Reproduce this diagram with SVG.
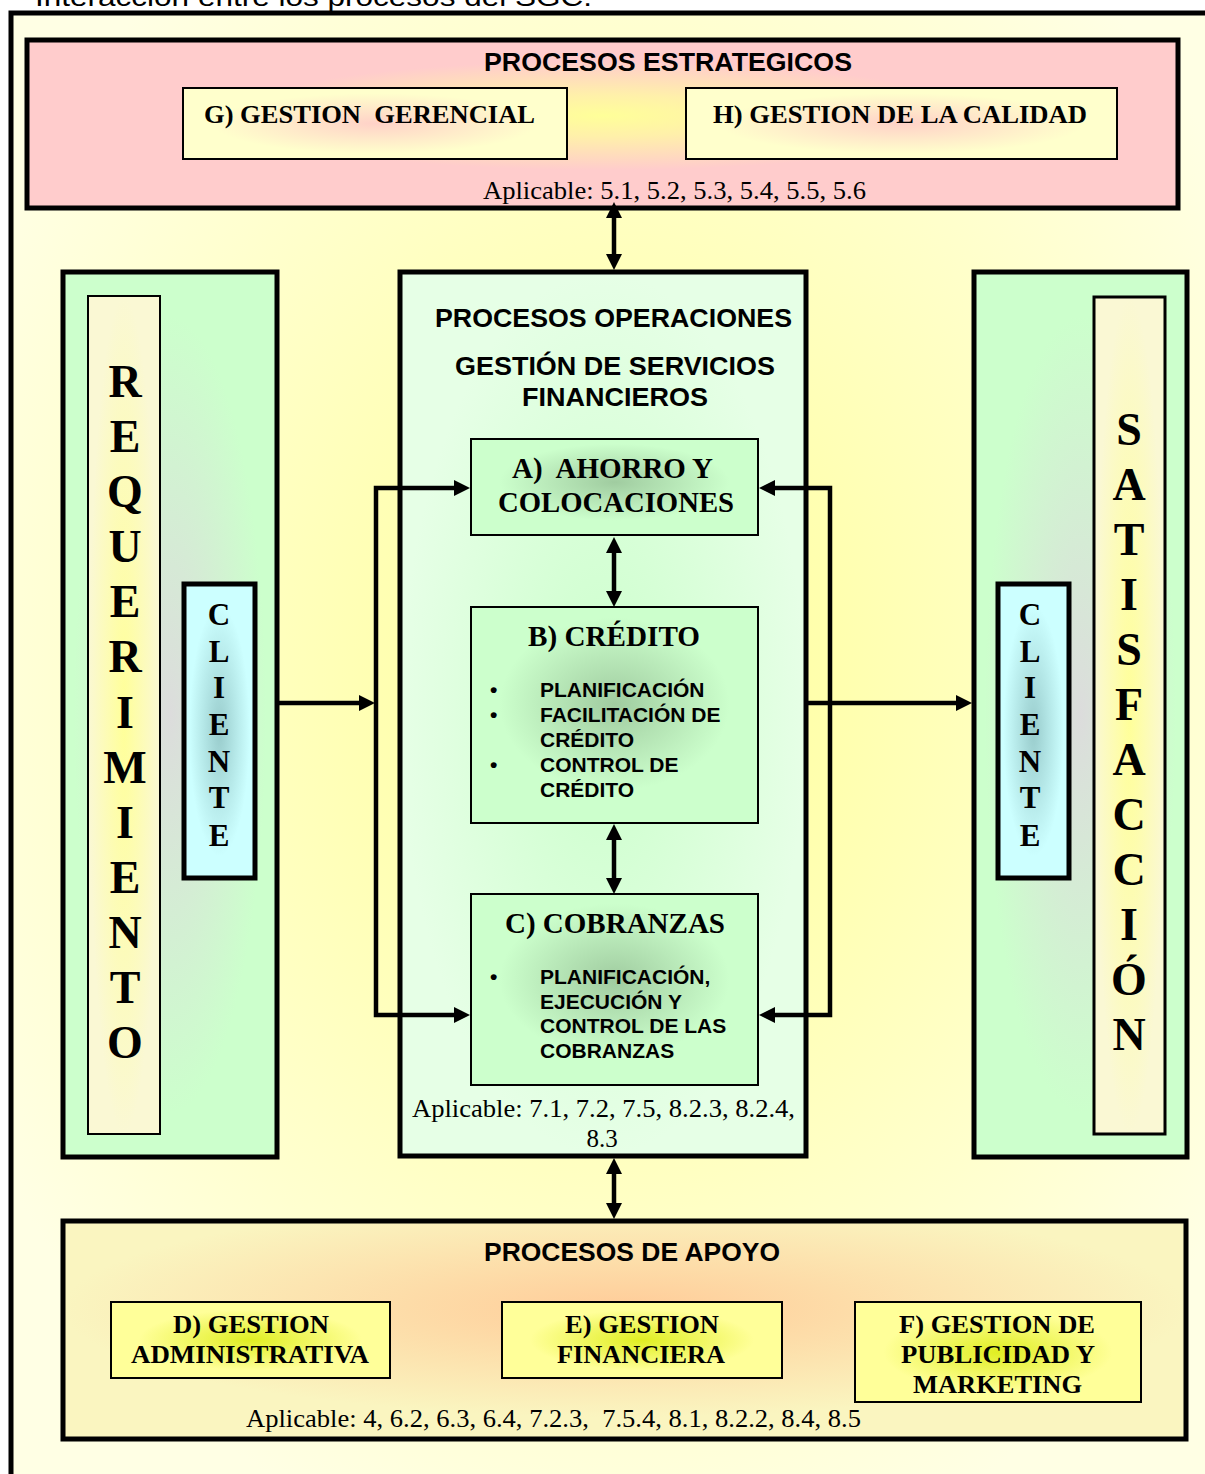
<svg xmlns="http://www.w3.org/2000/svg" width="1205" height="1474" viewBox="0 0 1205 1474">
<defs>
<style>
.sans{font-family:"Liberation Sans",Arial,sans-serif;font-weight:bold;fill:#000}
.serif{font-family:"Liberation Serif","Times New Roman",serif;fill:#000}
.b{font-weight:bold}
.hd{font-size:26px}
.ttl{font-size:26px}
.big{font-size:30px}
.bul{font-size:21px}
.apl{font-size:25px}
.vl{font-size:46px;font-weight:bold}
.vc{font-size:31px;font-weight:bold}
.thick{stroke:#000;stroke-width:5}
.mid{stroke:#000;stroke-width:3}
.thin{stroke:#000;stroke-width:2}
.con{fill:none;stroke:#000;stroke-width:4.5}
</style>
<radialGradient id="gBg" cx="0.5" cy="0.45" r="0.6"><stop offset="0" stop-color="#FFFF99"/><stop offset="1" stop-color="#FFFFE4"/></radialGradient>
<radialGradient id="gStrat" cx="0.5" cy="0.45" r="0.5"><stop offset="0" stop-color="#FFFF99"/><stop offset="0.25" stop-color="#FFF0AA"/><stop offset="0.65" stop-color="#FFCCCC"/></radialGradient>
<radialGradient id="gLight" cx="0.5" cy="0.5" r="0.5"><stop offset="0" stop-color="#FFD2C8"/><stop offset="0.85" stop-color="#FFFFCC"/></radialGradient>
<radialGradient id="gSide" cx="0.5" cy="0.5" r="0.5"><stop offset="0" stop-color="#DCDCDC"/><stop offset="0.9" stop-color="#CCFFCC"/></radialGradient>
<radialGradient id="gOps" cx="0.5" cy="0.5" r="0.5"><stop offset="0" stop-color="#CCFFCC"/><stop offset="1" stop-color="#E6FFE6"/></radialGradient>
<radialGradient id="gProc" cx="0.5" cy="0.45" r="0.5"><stop offset="0" stop-color="#A0CCA0"/><stop offset="0.8" stop-color="#CCFFCC"/></radialGradient>
<radialGradient id="gStrip" cx="0.5" cy="0.5" r="0.5"><stop offset="0" stop-color="#FFFF99"/><stop offset="1" stop-color="#FAF8D4"/></radialGradient>
<radialGradient id="gCli" cx="0.5" cy="0.5" r="0.5"><stop offset="0" stop-color="#99CCCC"/><stop offset="0.85" stop-color="#CCFFFF"/></radialGradient>
<radialGradient id="gApoyo" cx="0.5" cy="0.4" r="0.5"><stop offset="0" stop-color="#FFCC99"/><stop offset="1" stop-color="#FAF5C0"/></radialGradient>
<radialGradient id="gYel" cx="0.5" cy="0.5" r="0.5"><stop offset="0" stop-color="#E0EE22"/><stop offset="0.8" stop-color="#FFFF99"/></radialGradient>
<marker id="ah" markerUnits="userSpaceOnUse" markerWidth="16" markerHeight="16" viewBox="0 0 16 16" refX="10" refY="8" orient="auto-start-reverse"><path d="M0,0 L16,8 L0,16 z" fill="#000"/></marker>
</defs>

<text class="sans" x="35" y="6" style="font-weight:normal;font-size:26px" textLength="557" lengthAdjust="spacingAndGlyphs">Interacción entre los procesos del SGC.</text>

<g id="frame"><rect x="11" y="13" width="1230" height="1500" fill="url(#gBg)" class="thick"/></g>

<g id="estrategicos">
<rect x="27" y="40" width="1151" height="168" fill="url(#gStrat)" class="thick"/>
<text class="sans hd" x="484" y="71" textLength="368" lengthAdjust="spacingAndGlyphs">PROCESOS ESTRATEGICOS</text>
<text class="serif apl" x="483" y="199" textLength="383" lengthAdjust="spacingAndGlyphs">Aplicable: 5.1, 5.2, 5.3, 5.4, 5.5, 5.6</text>
</g>
<g id="gerencial">
<rect x="183" y="88" width="384" height="71" fill="url(#gLight)" class="thin"/>
<text class="serif b ttl" x="204" y="123" xml:space="preserve" textLength="331" lengthAdjust="spacingAndGlyphs">G) GESTION  GERENCIAL</text>
</g>
<g id="calidad">
<rect x="686" y="88" width="431" height="71" fill="url(#gLight)" class="thin"/>
<text class="serif b ttl" x="713" y="123" textLength="374" lengthAdjust="spacingAndGlyphs">H) GESTION DE LA CALIDAD</text>
</g>

<g id="requerimiento">
<rect x="63" y="272" width="214" height="885" fill="url(#gSide)" class="thick"/>
<rect x="88" y="296" width="72" height="838" fill="url(#gStrip)" class="thin"/>
<g class="serif vl" text-anchor="middle">
<text x="125" y="397">R</text><text x="125" y="452">E</text><text x="125" y="507">Q</text><text x="125" y="562">U</text><text x="125" y="617">E</text><text x="125" y="672">R</text><text x="125" y="728">I</text><text x="125" y="783">M</text><text x="125" y="838">I</text><text x="125" y="893">E</text><text x="125" y="948">N</text><text x="125" y="1003">T</text><text x="125" y="1058">O</text>
</g>
</g>
<g id="cliente-izq">
<rect x="184" y="584" width="71" height="294" fill="url(#gCli)" class="thick"/>
<g class="serif vc" text-anchor="middle">
<text x="219" y="625">C</text><text x="219" y="662">L</text><text x="219" y="698">I</text><text x="219" y="735">E</text><text x="219" y="772">N</text><text x="219" y="808">T</text><text x="219" y="846">E</text>
</g>
</g>

<g id="satisfaccion">
<rect x="974" y="272" width="213" height="885" fill="url(#gSide)" class="thick"/>
<rect x="1094" y="297" width="71" height="837" fill="url(#gStrip)" class="mid"/>
<g class="serif vl" text-anchor="middle">
<text x="1129" y="445">S</text><text x="1129" y="500">A</text><text x="1129" y="555">T</text><text x="1129" y="610">I</text><text x="1129" y="665">S</text><text x="1129" y="720">F</text><text x="1129" y="775">A</text><text x="1129" y="830">C</text><text x="1129" y="885">C</text><text x="1129" y="940">I</text><text x="1129" y="995">Ó</text><text x="1129" y="1050">N</text>
</g>
</g>
<g id="cliente-der">
<rect x="998" y="584" width="71" height="294" fill="url(#gCli)" class="thick"/>
<g class="serif vc" text-anchor="middle">
<text x="1030" y="625">C</text><text x="1030" y="662">L</text><text x="1030" y="698">I</text><text x="1030" y="735">E</text><text x="1030" y="772">N</text><text x="1030" y="808">T</text><text x="1030" y="846">E</text>
</g>
</g>

<g id="operaciones">
<rect x="400" y="272" width="406" height="884" fill="url(#gOps)" class="thick"/>
<text class="sans hd" x="435" y="327" textLength="357" lengthAdjust="spacingAndGlyphs">PROCESOS OPERACIONES</text>
<text class="sans hd" x="455" y="375" textLength="320" lengthAdjust="spacingAndGlyphs">GESTIÓN DE SERVICIOS</text>
<text class="sans hd" x="522" y="406" textLength="186" lengthAdjust="spacingAndGlyphs">FINANCIEROS</text>
<text class="serif apl" x="412" y="1117" textLength="383" lengthAdjust="spacingAndGlyphs">Aplicable: 7.1, 7.2, 7.5, 8.2.3, 8.2.4,</text>
<text class="serif apl" x="602" y="1147" text-anchor="middle">8.3</text>
</g>

<g id="ahorro">
<rect x="471" y="439" width="287" height="96" fill="url(#gProc)" class="thin"/>
<text class="serif b big" x="512" y="478" xml:space="preserve" textLength="201" lengthAdjust="spacingAndGlyphs">A)  AHORRO Y</text>
<text class="serif b big" x="498" y="512" textLength="236" lengthAdjust="spacingAndGlyphs">COLOCACIONES</text>
</g>

<g id="credito">
<rect x="471" y="607" width="287" height="216" fill="url(#gProc)" class="thin"/>
<text class="serif b big" x="528" y="646" textLength="172" lengthAdjust="spacingAndGlyphs">B) CRÉDITO</text>
<g class="sans bul">
<text x="490" y="697">•</text><text x="490" y="722">•</text><text x="490" y="772">•</text>
<text x="540" y="697">PLANIFICACIÓN</text>
<text x="540" y="722">FACILITACIÓN DE</text>
<text x="540" y="747">CRÉDITO</text>
<text x="540" y="772">CONTROL DE</text>
<text x="540" y="797">CRÉDITO</text>
</g>
</g>

<g id="cobranzas">
<rect x="471" y="894" width="287" height="191" fill="url(#gProc)" class="thin"/>
<text class="serif b big" x="505" y="933" textLength="220" lengthAdjust="spacingAndGlyphs">C) COBRANZAS</text>
<g class="sans bul">
<text x="490" y="984">•</text>
<text x="540" y="984">PLANIFICACIÓN,</text>
<text x="540" y="1009">EJECUCIÓN Y</text>
<text x="540" y="1033">CONTROL DE LAS</text>
<text x="540" y="1058">COBRANZAS</text>
</g>
</g>

<g id="apoyo">
<rect x="63" y="1221" width="1123" height="218" fill="url(#gApoyo)" class="thick"/>
<text class="sans hd" x="484" y="1261" textLength="296" lengthAdjust="spacingAndGlyphs">PROCESOS DE APOYO</text>
<text class="serif apl" x="246" y="1427" xml:space="preserve" textLength="615" lengthAdjust="spacingAndGlyphs">Aplicable: 4, 6.2, 6.3, 6.4, 7.2.3,  7.5.4, 8.1, 8.2.2, 8.4, 8.5</text>
</g>
<g id="administrativa">
<rect x="111" y="1302" width="279" height="76" fill="url(#gYel)" class="thin"/>
<text class="serif b ttl" x="173" y="1333" textLength="156" lengthAdjust="spacingAndGlyphs">D) GESTION</text>
<text class="serif b ttl" x="131" y="1363" textLength="238" lengthAdjust="spacingAndGlyphs">ADMINISTRATIVA</text>
</g>
<g id="financiera">
<rect x="502" y="1302" width="280" height="76" fill="url(#gYel)" class="thin"/>
<text class="serif b ttl" x="565" y="1333" textLength="154" lengthAdjust="spacingAndGlyphs">E) GESTION</text>
<text class="serif b ttl" x="557" y="1363" textLength="168" lengthAdjust="spacingAndGlyphs">FINANCIERA</text>
</g>
<g id="publicidad">
<rect x="855" y="1302" width="286" height="100" fill="url(#gYel)" class="thin"/>
<text class="serif b ttl" x="899" y="1333" textLength="196" lengthAdjust="spacingAndGlyphs">F) GESTION DE</text>
<text class="serif b ttl" x="901" y="1363" textLength="194" lengthAdjust="spacingAndGlyphs">PUBLICIDAD Y</text>
<text class="serif b ttl" x="913" y="1393" textLength="169" lengthAdjust="spacingAndGlyphs">MARKETING</text>
</g>

<g id="connectors">
<path class="con" d="M614,208 V264" marker-start="url(#ah)" marker-end="url(#ah)" style="stroke-width:4.5"/>
<path class="con" d="M614,543 V601" marker-start="url(#ah)" marker-end="url(#ah)"/>
<path class="con" d="M614,830 V888" marker-start="url(#ah)" marker-end="url(#ah)"/>
<path class="con" d="M614,1164 V1213" marker-start="url(#ah)" marker-end="url(#ah)"/>
<path class="con" d="M279,703 H369" marker-end="url(#ah)"/>
<path class="con" d="M464,488 H376 V1015 H464" marker-start="url(#ah)" marker-end="url(#ah)"/>
<path class="con" d="M765,488 H830 V1015 H765" marker-start="url(#ah)" marker-end="url(#ah)"/>
<path class="con" d="M806,703 H966" marker-end="url(#ah)"/>
</g>
</svg>
